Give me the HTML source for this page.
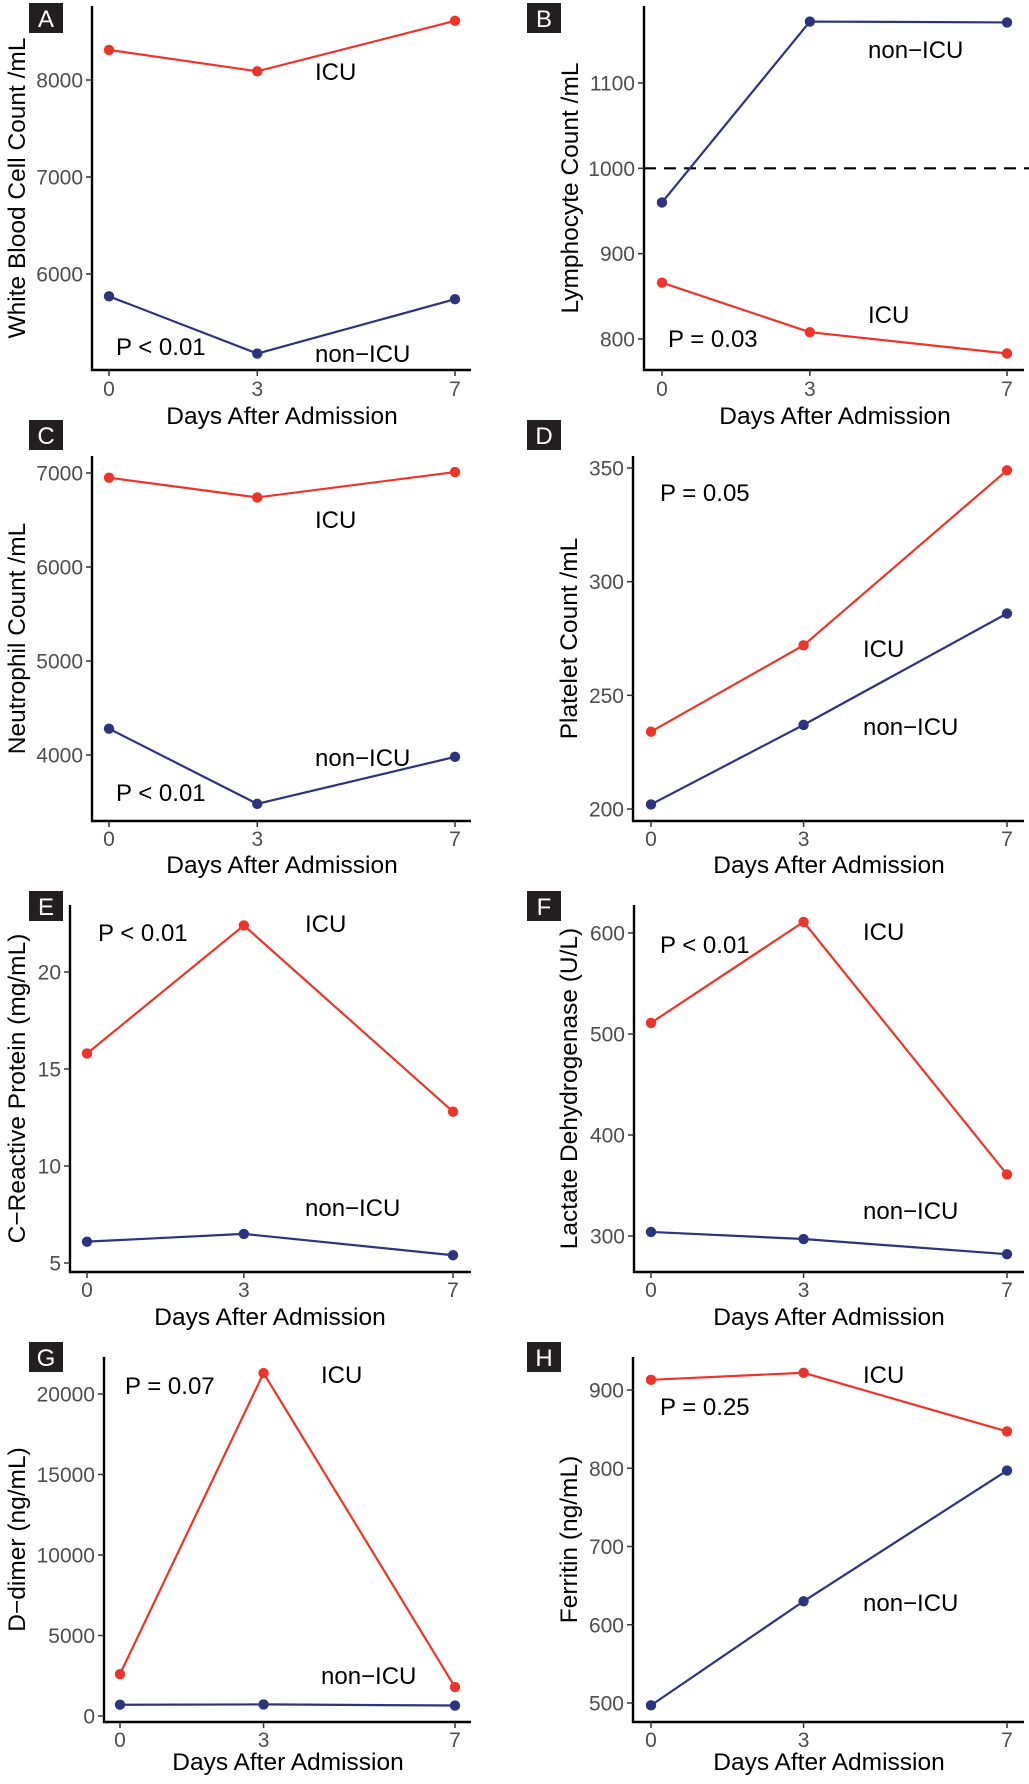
<!DOCTYPE html>
<html><head><meta charset="utf-8">
<style>
html,body{margin:0;padding:0;background:#fff;}
svg{display:block;font-family:"Liberation Sans",Arial,sans-serif;}
</style></head>
<body>
<svg id="fig" width="1029" height="1784" viewBox="0 0 1029 1784" xmlns="http://www.w3.org/2000/svg"></svg>
<script>
const days = [0, 3, 7];
const xTickLabels = ["0", "3", "7"];
// A WBC
const wbcICU = [8310, 8090, 8610];
const wbcNon = [5770, 5180, 5740];
const wbcTicks = [6000, 7000, 8000];
// B Lymphocyte
const lymICU = [866, 808, 783];
const lymNon = [960, 1172, 1171];
const lymTicks = [800, 900, 1000, 1100];
const lymRef = 1000;
// C Neutrophil
const neuICU = [6950, 6740, 7010];
const neuNon = [4280, 3480, 3980];
const neuTicks = [4000, 5000, 6000, 7000];
// D Platelet
const pltICU = [234, 272, 349];
const pltNon = [202, 237, 286];
const pltTicks = [200, 250, 300, 350];
// E CRP
const crpICU = [15.8, 22.4, 12.8];
const crpNon = [6.1, 6.5, 5.4];
const crpTicks = [5, 10, 15, 20];
// F LDH
const ldhICU = [511, 611, 361];
const ldhNon = [304, 297, 282];
const ldhTicks = [300, 400, 500, 600];
// G D-dimer
const ddICU = [2600, 21300, 1800];
const ddNon = [700, 720, 650];
const ddTicks = [0, 5000, 10000, 15000, 20000];
// H Ferritin
const ferICU = [913, 922, 847];
const ferNon = [497, 630, 797];
const ferTicks = [500, 600, 700, 800, 900];

const NS = "http://www.w3.org/2000/svg";
const svg = document.getElementById('fig');
function mk(tag, attrs, parent) {
  const e = document.createElementNS(NS, tag);
  for (const k in attrs) e.setAttribute(k, attrs[k]);
  (parent || svg).appendChild(e);
  return e;
}
const RED = "#ec3528", BLUE = "#2c3480";

// layout: axis geometry (pixels) and label positions
const panels = [
  {id:"a", letter:"A", icu:wbcICU, non:wbcNon, ticks:wbcTicks, title:"White Blood Cell Count /mL",
   ax:92, top:6, bot:370, right:471, x0:109, x7:455, t1:[6000,274], t2:[8000,80],
   box:[29,3], ytx:25, xtc:282, tickBase:396, titleBase:424,
   notes:[["ICU",315,80],["non\u2212ICU",315,362],["P < 0.01",116,355]]},
  {id:"b", letter:"B", icu:lymICU, non:lymNon, ticks:lymTicks, title:"Lymphocyte Count /mL",
   ax:644, top:6, bot:370, right:1024, x0:662, x7:1007, t1:[800,339], t2:[1100,83],
   box:[527,3], ytx:578, xtc:835, tickBase:396, titleBase:424, ref:lymRef,
   notes:[["non\u2212ICU",868,58],["ICU",868,323],["P = 0.03",668,347]]},
  {id:"c", letter:"C", icu:neuICU, non:neuNon, ticks:neuTicks, title:"Neutrophil Count /mL",
   ax:92, top:456, bot:821, right:471, x0:109, x7:455, t1:[4000,755], t2:[7000,473],
   box:[29,420], ytx:25, xtc:282, tickBase:846, titleBase:873,
   notes:[["ICU",315,528],["non\u2212ICU",315,766],["P < 0.01",116,801]]},
  {id:"d", letter:"D", icu:pltICU, non:pltNon, ticks:pltTicks, title:"Platelet Count /mL",
   ax:633, top:456, bot:821, right:1024, x0:651, x7:1007, t1:[200,809], t2:[350,468],
   box:[527,420], ytx:577, xtc:829, tickBase:846, titleBase:873,
   notes:[["P = 0.05",660,501],["ICU",863,657],["non\u2212ICU",863,735]]},
  {id:"e", letter:"E", icu:crpICU, non:crpNon, ticks:crpTicks, title:"C\u2212Reactive Protein (mg/mL)",
   ax:70, top:905, bot:1272, right:471, x0:87, x7:453, t1:[5,1263], t2:[20,972],
   box:[29,891], ytx:25, xtc:270, tickBase:1297, titleBase:1325,
   notes:[["P < 0.01",98,941],["ICU",305,932],["non\u2212ICU",305,1216]]},
  {id:"f", letter:"F", icu:ldhICU, non:ldhNon, ticks:ldhTicks, title:"Lactate Dehydrogenase (U/L)",
   ax:634, top:905, bot:1272, right:1024, x0:651, x7:1007, t1:[300,1236], t2:[600,933],
   box:[527,891], ytx:577, xtc:829, tickBase:1297, titleBase:1325,
   notes:[["P < 0.01",660,953],["ICU",863,940],["non\u2212ICU",863,1219]]},
  {id:"g", letter:"G", icu:ddICU, non:ddNon, ticks:ddTicks, title:"D\u2212dimer (ng/mL)",
   ax:104, top:1357, bot:1722, right:471, x0:120, x7:455, t1:[0,1716], t2:[20000,1394],
   box:[29,1342], ytx:25, xtc:288, tickBase:1747, titleBase:1770,
   notes:[["P = 0.07",125,1394],["ICU",321,1383],["non\u2212ICU",321,1684]]},
  {id:"h", letter:"H", icu:ferICU, non:ferNon, ticks:ferTicks, title:"Ferritin (ng/mL)",
   ax:633, top:1357, bot:1722, right:1024, x0:651, x7:1007, t1:[500,1703], t2:[900,1390],
   box:[527,1342], ytx:577, xtc:829, tickBase:1747, titleBase:1770,
   notes:[["ICU",863,1383],["P = 0.25",660,1415],["non\u2212ICU",863,1611]]}
];

panels.forEach(p => {
  const g = mk('g', {});
  
  
  const xs = d => p.x0 + (d - days[0]) / (days[days.length-1] - days[0]) * (p.x7 - p.x0);
  const ys = v => p.t1[1] + (v - p.t1[0]) / (p.t2[0] - p.t1[0]) * (p.t2[1] - p.t1[1]);

  // panel letter
  const bx = mk('rect', {x:p.box[0], y:p.box[1], width:34, height:30, fill:"#231f20"}, g);
  
  
  const lt = mk('text', {x:p.box[0]+17, y:p.box[1]+24, "text-anchor":"middle", fill:"#fff", "font-size":24}, g);
  lt.textContent = p.letter;
  
  

  // reference line
  if (p.ref !== undefined) {
    const rl = mk('line', {x1:p.ax, x2:1029, y1:ys(p.ref), y2:ys(p.ref), stroke:"#000", "stroke-width":2.2, "stroke-dasharray":"12,8"}, g);
    
    
  }

  // axes
  const yax = mk('line', {x1:p.ax, x2:p.ax, y1:p.top, y2:p.bot+1, stroke:"#000", "stroke-width":2.4}, g);
  
  
  const xax = mk('line', {x1:p.ax-1, x2:p.right, y1:p.bot, y2:p.bot, stroke:"#000", "stroke-width":2.4}, g);
  
  

  p.ticks.forEach(t => {
    const y = ys(t);
    const tk = mk('line', {x1:p.ax-6, x2:p.ax, y1:y, y2:y, stroke:"#333", "stroke-width":1.5}, g);
    
    
    const tl = mk('text', {x:p.ax-9, y:y+7.5, "text-anchor":"end", fill:"#4d4d4d", "font-size":21}, g);
    tl.textContent = String(t);
    
    
  });
  days.forEach((d, i) => {
    const x = xs(d);
    const tk = mk('line', {x1:x, x2:x, y1:p.bot, y2:p.bot+6, stroke:"#333", "stroke-width":1.5}, g);
    
    
    const tl = mk('text', {x:x, y:p.tickBase, "text-anchor":"middle", fill:"#4d4d4d", "font-size":21}, g);
    tl.textContent = xTickLabels[i];
    
    
  });

  const xt = mk('text', {x:p.xtc, y:p.titleBase, "text-anchor":"middle", fill:"#000", "font-size":24.5}, g);
  xt.textContent = "Days After Admission";
  
  
  const yc = (p.top + p.bot) / 2;
  const yt = mk('text', {x:0, y:0, "text-anchor":"middle", fill:"#000", "font-size":24.5,
    transform:"translate(" + p.ytx + "," + yc + ") rotate(-90)"}, g);
  yt.textContent = p.title;
  
  

  // series
  [[p.non, BLUE, 'non-icu'], [p.icu, RED, 'icu']].forEach(s => {
    const pts = days.map((d, i) => xs(d) + "," + ys(s[0][i])).join(" ");
    const ln = mk('polyline', {points:pts, fill:"none", stroke:s[1], "stroke-width":2.2}, g);
    
    
    days.forEach((d, i) => {
      const c = mk('circle', {cx:xs(d), cy:ys(s[0][i]), r:5.2, fill:s[1]}, g);
      
      
    });
  });

  p.notes.forEach(n => {
    const t = mk('text', {x:n[1], y:n[2], fill:"#000", "font-size":24}, g);
    t.textContent = n[0];
    
    
  });
});
</script>
</body></html>
